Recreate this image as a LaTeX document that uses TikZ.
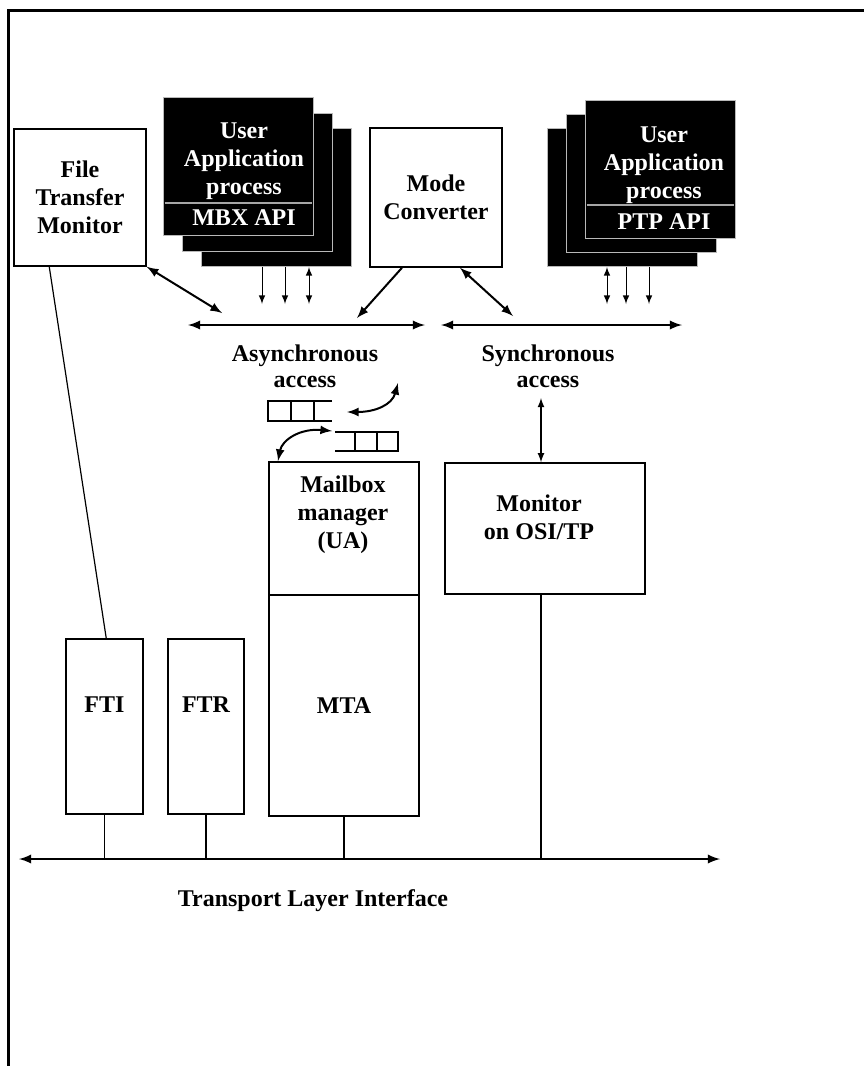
\documentclass[tikz,border=0pt]{standalone}
\usepackage{fontspec}
\setmainfont{Liberation Serif}
\usepackage{tikz}

\begin{document}
\begin{tikzpicture}[x=0.5pt, y=-0.5pt, >=latex,
    box/.style={draw, rectangle, line width=0.75pt, inner sep=0pt, align=center, font=\fontsize{12}{14}\selectfont\bfseries},
    apibox/.style={draw=gray!55, rectangle, line width=0.5pt, fill=black, inner sep=0pt, minimum width=75pt, minimum height=69pt},
    apitxt/.style={align=center, text=white, font=\fontsize{12}{14}\selectfont\bfseries},
    txt/.style={align=center, font=\fontsize{12}{14}\selectfont\bfseries},
    link/.style={line width=1pt},
    bus/.style={<->, line width=1.1pt}]
    \useasboundingbox (0,0) rectangle (864,1066);

    % Frame
    \draw [line width=1.5pt] (8,1066) -- (8,10) -- (864,10);

    % Nodes
    \node [box, minimum width=66pt, minimum height=68.5pt] (ftm) at (80,197.5) {File\\Transfer\\Monitor};
    \node [box, minimum width=66pt, minimum height=69.5pt] (mc) at (436,197.5) {Mode\\Converter};

    \node [apibox] (mbx3) at (276,197.5) {};
    \node [apibox] (mbx2) at (257.5,182.5) {};
    \node [apibox] (mbx1) at (238,166) {};
    \draw [gray!70, line width=0.6pt] ([xshift=1pt]mbx1.west |- 0,203) -- ([xshift=-1pt]mbx1.east |- 0,203);
    \node [apitxt] (mbxt) at (244,174) {User\\Application\\process\\[1.5pt]MBX API};

    \node [apibox] (ptp3) at (622,197.5) {};
    \node [apibox] (ptp2) at (641,183.5) {};
    \node [apibox] (ptp1) at (660,169.5) {};
    \draw [gray!70, line width=0.6pt] ([xshift=1pt]ptp1.west |- 0,205) -- ([xshift=-1pt]ptp1.east |- 0,205);
    \node [apitxt] (ptpt) at (664,178) {User\\Application\\process\\[1.5pt]PTP API};

    \node [box, minimum width=75pt, minimum height=66.5pt] (mbm) at (344,528.5) {};
    \node [box, minimum width=75pt, minimum height=110.5pt] (mta) at (344,705.5) {MTA};
    \node [box, minimum width=100pt, minimum height=65.5pt] (mon) at (545,528.5) {};
    \node [box, minimum width=38.5pt, minimum height=87.5pt] (fti) at (104.5,726.5) {};
    \node [box, minimum width=38pt, minimum height=87.5pt] (ftr) at (206,726.5) {};

    % Queues
    \draw [line width=0.6pt] (332,401) -- (268,401) -- (268,421) -- (332,421)
        (291,401) -- (291,421) (314,401) -- (314,421);
    \draw [line width=0.6pt] (335,432) -- (398,432) -- (398,451) -- (335,451)
        (355,432) -- (355,451) (377,432) -- (377,451);

    % Coordinates
    \coordinate (abusL) at (188,325);
    \coordinate (abusR) at (425,325);
    \coordinate (sbusL) at (441,325);
    \coordinate (sbusR) at (682,325);
    \coordinate (tliL) at (19,859);
    \coordinate (tliR) at (720,859);
    \coordinate (ftmend) at (222,313);
    \coordinate (mcend1) at (357,318);
    \coordinate (mcend2) at (513,316);
    \coordinate (syncin) at (541,398);
    \coordinate (q1a) at (398,383);
    \coordinate (q1b) at (347,412);
    \coordinate (q2a) at (332,431);
    \coordinate (q2b) at (278,461);

    % Arrows
    \draw [bus] (abusL) -- (abusR);
    \draw [bus] (sbusL) -- (sbusR);
    \draw [bus] (tliL) -- (tliR);
    \draw [<->, link] (ftm.south east) -- (ftmend);
    \draw [->, link] ([xshift=-17pt]mc.south) -- (mcend1);
    \draw [<->, link] ([xshift=12pt]mc.south) -- (mcend2);
    \foreach \x/\tip in {262/->, 285/->, 309/<->}
        \draw [\tip, line width=0.5pt] (\x,0 |- mbx3.south) -- (\x,304);
    \foreach \x/\tip in {607/<->, 626/->, 649/->}
        \draw [\tip, line width=0.5pt] (\x,0 |- ptp3.south) -- (\x,304);
    \draw [<->, line width=0.6pt] (syncin |- mon.north) -- (syncin);
    \draw [<->, link] (q1a) .. controls (392,405) and (375,412) .. (q1b);
    \draw [<->, link] (q2a) .. controls (300,428) and (282,440) .. (q2b);
    \draw [line width=0.6pt] ([xshift=18pt]ftm.south west) -- ([xshift=20.5pt]fti.north west);
    \foreach \n in {fti, ftr, mta}
        \draw [line width=0.6pt] (\n.south) -- (\n.south |- tliL);
    \draw [line width=0.6pt] (syncin |- mon.south) -- (syncin |- tliL);

    % Labels
    \node [txt] (mbmt) at (343,515) {Mailbox\\manager\\(UA)};
    \node [txt] (mont) at (539,517) {Monitor\\on OSI/TP};
    \node [txt] at (104.5,705) {FTI};
    \node [txt] at (206,705) {FTR};
    \node [txt, font=\fontsize{12}{13}\selectfont\bfseries] (async) at (305,366) {Asynchronous\\access};
    \node [txt, font=\fontsize{12}{13}\selectfont\bfseries] (sync) at (548,366) {Synchronous\\access};
    \node [txt] (tli) at (313,901) {Transport Layer Interface};
\end{tikzpicture}
\end{document}
